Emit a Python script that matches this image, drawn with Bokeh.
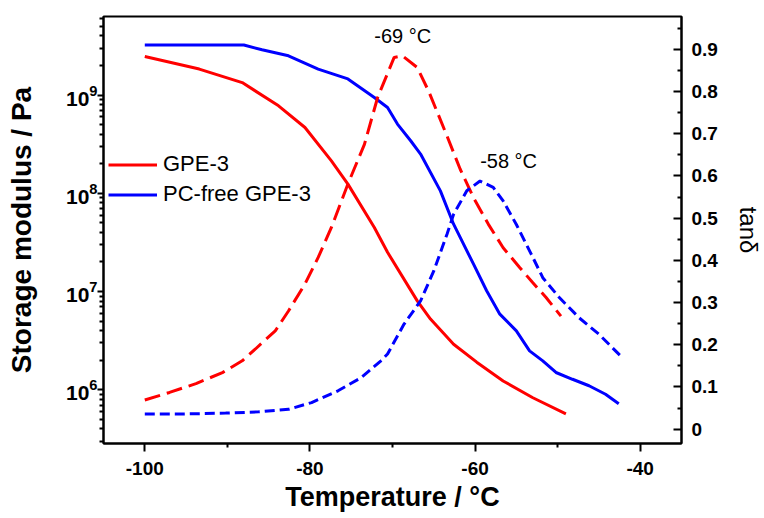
from bokeh.plotting import figure
from bokeh.models import (Range1d, LinearAxis, LinearScale, FixedTicker, LogTickFormatter,
                          Legend, LegendItem, ColumnDataSource)
from bokeh.core.properties import value
from bokeh.embed import file_html
from bokeh.resources import INLINE

# ---- data ----
# GPE-3 storage modulus (Pa)
gpe_E_T = [-100, -93.4, -88.2, -83.8, -80.6, -77.4, -75.4, -72.2, -70.6, -67.0,
           -65.4, -62.6, -59.8, -56.6, -53.0, -49.0]
gpe_E = [2.47e9, 1.84e9, 1.34e9, 7.78e8, 4.68e8, 2.14e8, 1.24e8, 4.49e7, 2.51e7, 8.04e6,
         5.25e6, 2.91e6, 1.91e6, 1.23e6, 8.3e5, 5.7e5]

# PC-free GPE-3 storage modulus (Pa)
pcf_E_T = [-100, -88.0, -85.8, -82.6, -79.0, -75.4, -72.2, -70.6, -69.4, -67.8, -66.6,
           -64.2, -62.6, -60.2, -58.6, -57.0, -55.0, -53.4, -51.8, -50.2, -48.2,
           -46.2, -44.2, -42.6]
pcf_E = [3.23e9, 3.23e9, 2.89e9, 2.51e9, 1.84e9, 1.46e9, 9.46e8, 7.48e8, 5.07e8, 3.43e8, 2.51e8,
         1.06e8, 4.85e7, 1.91e7, 1.02e7, 5.89e6, 3.98e6, 2.49e6, 1.97e6, 1.50e6, 1.28e6,
         1.10e6, 9.0e5, 7.2e5]

# GPE-3 tan delta
gpe_tan_T = [-100, -97.0, -93.8, -90.6, -88.2, -86.6, -84.2, -82.6, -80.6, -79.0, -77.4,
             -75.4, -73.4, -71.8, -69.8, -68.8, -67.0, -65.6, -63.4, -61.8, -60.2, -58.4,
             -56.6, -54.6, -53.0, -51.4, -49.6]
gpe_tan = [0.069, 0.087, 0.108, 0.134, 0.162, 0.19, 0.233, 0.280, 0.344, 0.407, 0.478,
           0.581, 0.675, 0.786, 0.881, 0.885, 0.857, 0.80, 0.695, 0.616, 0.549, 0.486,
           0.43, 0.383, 0.347, 0.312, 0.268]

# PC-free GPE-3 tan delta
pcf_tan_T = [-100, -95.4, -90.2, -86.2, -82.6, -79.8, -76.6, -73.8, -71.4, -70.6, -69.4,
             -68.6, -66.6, -65.0, -63.4, -62.6, -61.0, -59.4, -57.8, -56.6, -55.0, -53.2,
             -51.8, -49.8, -47.4, -45.0, -42.4]
pcf_tan = [0.036, 0.036, 0.038, 0.041, 0.047, 0.063, 0.091, 0.122, 0.162, 0.178, 0.221,
           0.249, 0.304, 0.375, 0.462, 0.509, 0.565, 0.588, 0.573, 0.541, 0.485, 0.415,
           0.359, 0.312, 0.264, 0.225, 0.174]

series_labels = ["GPE-3", "PC-free GPE-3"]
peak_temps = [-69, -58]
peak_labels = ["-69 °C", "-58 °C"]
peak_tan = [max(gpe_tan), max(pcf_tan)]

x_ticks = [-100, -80, -60, -40]
x_minor = [-90, -70, -50]
tan_ticks = [0.0, 0.1, 0.2, 0.3, 0.4, 0.5, 0.6, 0.7, 0.8, 0.9]
tan_minor = [0.05, 0.15, 0.25, 0.35, 0.45, 0.55, 0.65, 0.75, 0.85, 0.95]
E_ticks = [1e6, 1e7, 1e8, 1e9]
E_minor = [m * 10 ** e for e in range(5, 10) for m in range(2, 10)]

RED = "#ff0000"
BLUE = "#0000ff"
FONT = "Liberation Sans"

p = figure(width=764, height=518, output_backend="svg", toolbar_location=None,
           x_range=Range1d(-105, -35), y_range=Range1d(2.84e5, 6.31e9),
           y_axis_type="log",
           min_border_left=103, min_border_right=79, min_border_top=16, min_border_bottom=75)
p.extra_y_ranges = {"tan": Range1d(-0.034, 0.978)}
p.extra_y_scales = {"tan": LinearScale()}

p.xgrid.visible = False
p.ygrid.visible = False
p.outline_line_color = "black"
p.outline_line_width = 2
p.background_fill_color = "white"
p.border_fill_color = "white"

# curves
r1 = p.line(gpe_E_T, gpe_E, line_color=RED, line_width=3)
r2 = p.line(pcf_E_T, pcf_E, line_color=BLUE, line_width=3)
p.line(gpe_tan_T, gpe_tan, line_color=RED, line_width=3, line_dash="16 7", y_range_name="tan")
p.line(pcf_tan_T, pcf_tan, line_color=BLUE, line_width=3, line_dash="10 5", y_range_name="tan")

# peak annotations
ann = ColumnDataSource(dict(x=peak_temps, y=peak_tan, text=peak_labels, xo=[2, 17]))
p.text(x="x", y="y", text="text", source=ann, y_range_name="tan", x_offset="xo", y_offset=-9,
       text_align="center", text_baseline="bottom", text_font=value(FONT),
       text_font_size="20px", text_color="black")

# axes styling
def style_axis(ax, size="19px"):
    ax.axis_line_width = 2
    ax.axis_line_color = "black"
    ax.major_tick_line_width = 2
    ax.minor_tick_line_width = 2
    ax.major_tick_line_color = "black"
    ax.minor_tick_line_color = "black"
    ax.major_label_text_font = FONT
    ax.major_label_text_font_style = "bold"
    ax.major_label_text_font_size = size
    ax.major_label_text_color = "black"
    ax.axis_label_text_font = FONT
    ax.axis_label_text_color = "black"

xa = p.xaxis[0]
style_axis(xa)
xa.ticker = FixedTicker(ticks=x_ticks, minor_ticks=x_minor)
xa.major_label_overrides = {t: str(t) for t in x_ticks}
xa.major_tick_out = 8
xa.major_tick_in = 0
xa.minor_tick_out = 4
xa.minor_tick_in = 0
xa.major_label_standoff = 10
xa.axis_label = "Temperature / °C"
xa.axis_label_text_font_size = "27px"
xa.axis_label_text_font_style = "bold"
xa.axis_label_standoff = 4

ya = p.yaxis[0]
style_axis(ya, "21px")
ya.ticker = FixedTicker(ticks=E_ticks, minor_ticks=E_minor)
ya.formatter = LogTickFormatter()
ya.major_tick_out = 6
ya.major_tick_in = 0
ya.minor_tick_out = 4
ya.minor_tick_in = 0
ya.major_label_standoff = 0
ya.axis_label = "Storage modulus / Pa"
ya.axis_label_text_font_size = "28px"
ya.axis_label_text_font_style = "bold"
ya.axis_label_standoff = 26

ra = LinearAxis(y_range_name="tan")
style_axis(ra)
ra.ticker = FixedTicker(ticks=tan_ticks, minor_ticks=tan_minor)
ra.major_tick_in = 8
ra.major_tick_out = 0
ra.minor_tick_in = 4
ra.minor_tick_out = 0
ra.major_label_standoff = 10
ra.axis_label = "tanδ"
ra.axis_label_text_font_size = "24px"
ra.axis_label_text_font_style = "normal"
ra.axis_label_standoff = 14
p.add_layout(ra, "right")

legend = Legend(items=[LegendItem(label=series_labels[0], renderers=[r1]),
                       LegendItem(label=series_labels[1], renderers=[r2])],
                location=(5, 236), padding=0, margin=0, spacing=4,
                glyph_width=49, glyph_height=25, label_height=25, label_standoff=6,
                border_line_alpha=0, background_fill_alpha=0,
                label_text_font=FONT, label_text_font_size="22px", label_text_color="black")
p.add_layout(legend)

open("out.html", "w").write(file_html(p, INLINE))
